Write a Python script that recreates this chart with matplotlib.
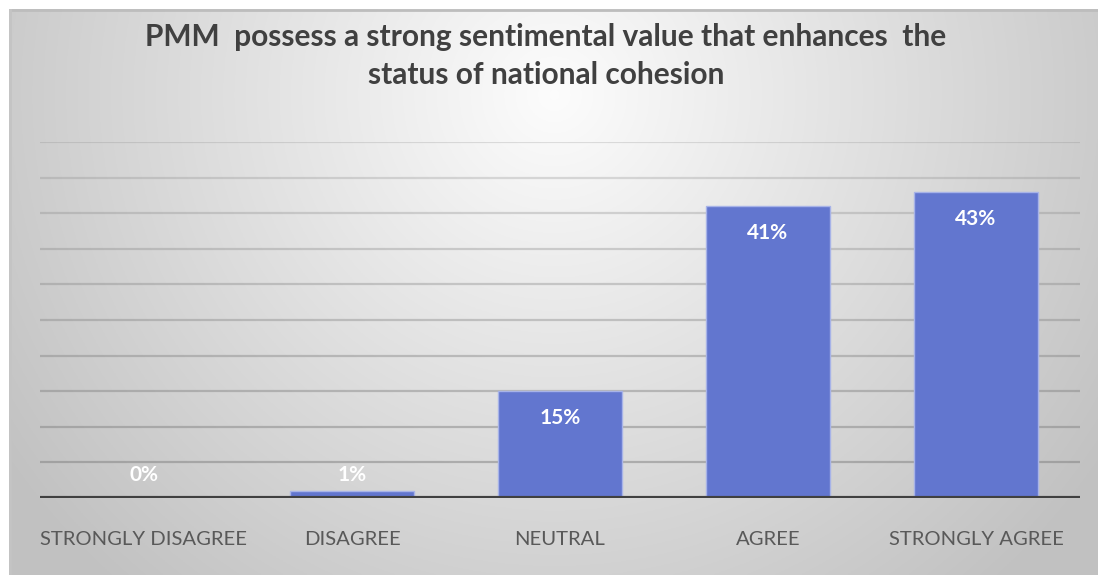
import numpy as np
import matplotlib.pyplot as plt

categories = ["STRONGLY DISAGREE", "DISAGREE", "NEUTRAL", "AGREE", "STRONGLY AGREE"]
values = [0, 1, 15, 41, 43]
labels = ["0%", "1%", "15%", "41%", "43%"]
title = "PMM  possess a strong sentimental value that enhances  the\nstatus of national cohesion"

W, H = 1098, 575
fig = plt.figure(figsize=(W / 100, H / 100), dpi=100)
fig.patch.set_facecolor("white")

# fond en degrade radial
bg = fig.add_axes([9 / W, 0, 1 - 9 / W, 1 - 9 / H])
ny, nx = 300, 600
yy, xx = np.mgrid[0:ny, 0:nx]
dx = (xx / nx - 0.5) * 1.9
dy = (yy / ny - 0.15) * 1.0
d = np.sqrt(dx ** 2 + dy ** 2)
g = np.clip(0.99 - 0.2 * d, 0.76, 1)
img = np.dstack([g, g, g])
bg.imshow(img, aspect="auto", extent=[0, 1, 0, 1], origin="upper")
bg.plot([0, 1], [0.999, 0.999], color="#bdbdbd", lw=2)
bg.plot([0.001, 0.001], [0, 1], color="#c4c4c4", lw=2)
bg.set_xlim(0, 1)
bg.set_ylim(0, 1)
bg.axis("off")

ax = fig.add_axes([40 / W, 77 / H, 1040 / W, 356 / H])
ax.patch.set_alpha(0)
x = np.arange(len(categories))
ax.set_xlim(-0.5, len(categories) - 0.5)
ax.set_ylim(0, 50)

for i, gy in enumerate(range(5, 55, 5)):
    a = 0.5 - 0.03 * i
    ax.axhline(gy, color="#7f7f7f", lw=1.6, alpha=a, zorder=1)

ax.bar(x, values, width=0.6, color="#6276cf", edgecolor="#a7b3e8", lw=1, zorder=2)
ax.axhline(0, color="#404040", lw=3, zorder=3)

for xi, v, lab in zip(x, values, labels):
    ty = max(v - 3.8, 3.2)
    ax.text(xi, ty, lab, ha="center", va="center", color="white",
            fontsize=15, fontweight="bold", family="Lato", zorder=4)

ax.set_xticks(x)
ax.set_xticklabels(categories, fontsize=14.6, color="#595959", family="Lato")
ax.tick_params(axis="x", length=0, pad=24)
ax.set_yticks([])
for s in ax.spines.values():
    s.set_visible(False)

fig.text(546 / W, 1 - 56 / H, title, ha="center", va="center", fontsize=21.5,
         fontweight="bold", color="#404040", family="Lato", linespacing=1.4)

fig.savefig("out.png", dpi=100)
